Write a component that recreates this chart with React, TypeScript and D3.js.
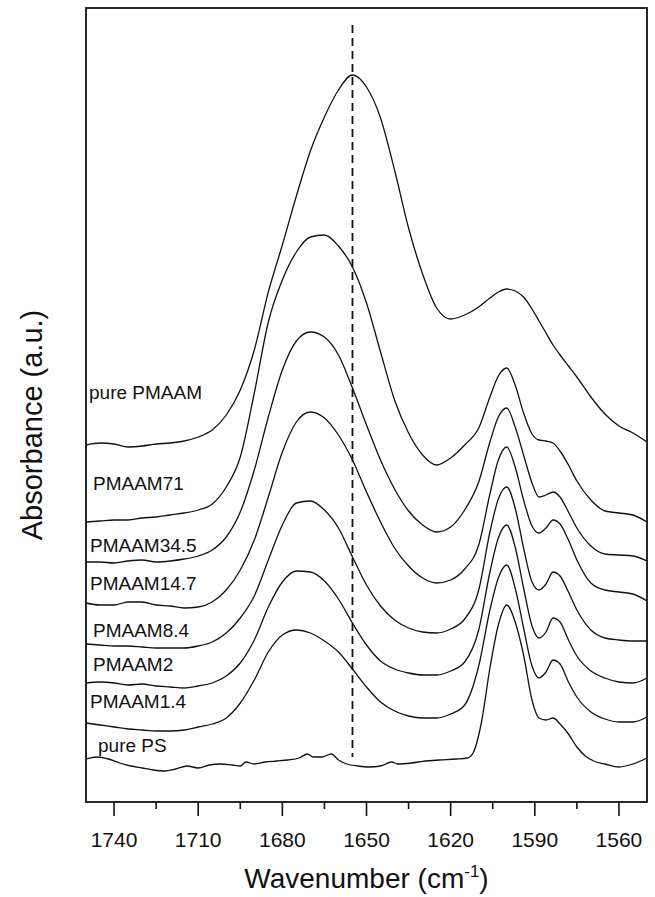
import React from "react";
import * as d3 from "d3";

// Shared wavenumber grid (cm^-1) for the PMAAM-containing spectra
const wavenumbers = [
  1750, 1745, 1740, 1735, 1730, 1725, 1720, 1715, 1710, 1705, 1700, 1695, 1690, 1685, 1680, 1675,
  1670, 1665, 1660, 1655, 1650, 1645, 1640, 1635, 1630, 1625, 1620, 1615, 1610, 1606, 1603, 1600,
  1597, 1594, 1591, 1588.5, 1586, 1583.5, 1581, 1578, 1575, 1570, 1565, 1560, 1555, 1550,
];

// Stacked absorbance traces (a.u., vertical offsets included)
const purePMAAM = [
  3.57, 3.59, 3.58, 3.55, 3.56, 3.58, 3.59, 3.61, 3.65, 3.72, 3.87, 4.12, 4.52, 5.1, 5.57, 6.06,
  6.51, 6.85, 7.12, 7.27, 7.15, 6.84, 6.32, 5.74, 5.28, 4.94, 4.83, 4.87, 4.95, 5.04, 5.1, 5.13,
  5.11, 5.05, 4.93, 4.81, 4.69, 4.57, 4.47, 4.36, 4.25, 4.05, 3.88, 3.76, 3.69, 3.6,
];
const pmaam71 = [
  2.8, 2.81, 2.82, 2.82, 2.84, 2.85, 2.87, 2.89, 2.92, 2.98, 3.15, 3.45, 4.09, 4.8, 5.22, 5.5,
  5.65, 5.67, 5.56, 5.35, 4.99, 4.5, 4.02, 3.69, 3.47, 3.37, 3.44, 3.57, 3.74, 4.05, 4.26, 4.34,
  4.17, 3.89, 3.68, 3.62, 3.61, 3.59, 3.51, 3.37, 3.21, 3.02, 2.91, 2.89, 2.87, 2.8,
];
const pmaam34_5 = [
  2.4, 2.4, 2.39, 2.41, 2.42, 2.4, 2.41, 2.43, 2.46, 2.52, 2.65, 2.9, 3.32, 3.85, 4.32, 4.61,
  4.7, 4.65, 4.47, 4.14, 3.77, 3.42, 3.13, 2.91, 2.77, 2.7, 2.75, 2.92, 3.2, 3.6, 3.85, 3.94,
  3.75, 3.47, 3.19, 3.05, 3.07, 3.1, 3.05, 2.9, 2.74, 2.56, 2.48, 2.47, 2.46, 2.41,
];
const pmaam14_7 = [
  1.99, 1.97, 1.97, 2.0, 2.0, 1.97, 1.96, 1.94, 1.95, 2.0, 2.12, 2.32, 2.62, 3.05, 3.5, 3.8,
  3.9, 3.84, 3.67, 3.42, 3.1, 2.8, 2.54, 2.36, 2.24, 2.19, 2.22, 2.33, 2.57, 3.08, 3.42, 3.55,
  3.35, 3.02, 2.76, 2.69, 2.74, 2.82, 2.78, 2.62, 2.42, 2.19, 2.12, 2.1, 2.08, 2.01,
];
const pmaam8_4 = [
  1.58, 1.57, 1.56, 1.56, 1.55, 1.54, 1.54, 1.54, 1.56, 1.6, 1.69, 1.84, 2.06, 2.42, 2.77, 2.99,
  3.01, 2.92, 2.74, 2.45, 2.17, 1.96, 1.82, 1.74, 1.7, 1.69, 1.73, 1.83, 2.12, 2.7, 3.03, 3.15,
  2.94, 2.54, 2.2, 2.12, 2.18, 2.3, 2.26, 2.1, 1.92, 1.72, 1.64, 1.62, 1.61, 1.61,
];
const pmaam2 = [
  1.19, 1.2, 1.19, 1.17, 1.18, 1.16, 1.15, 1.14, 1.16, 1.19, 1.26, 1.39, 1.62, 1.95, 2.2, 2.31,
  2.3, 2.21, 2.03, 1.79, 1.57, 1.41, 1.33, 1.29, 1.27, 1.27, 1.31, 1.4, 1.72, 2.3, 2.64, 2.77,
  2.55, 2.14, 1.76, 1.64, 1.7, 1.84, 1.8, 1.62, 1.46, 1.31, 1.24, 1.2, 1.19, 1.24,
];
const pmaam1_4 = [
  0.79, 0.77, 0.75, 0.73, 0.72, 0.71, 0.71, 0.72, 0.75, 0.78, 0.84, 0.99, 1.22, 1.5, 1.67, 1.72,
  1.69, 1.61, 1.5, 1.33, 1.15, 1.0, 0.91, 0.86, 0.84, 0.84, 0.88, 0.97, 1.36, 1.92, 2.24, 2.37,
  2.14, 1.74, 1.36, 1.24, 1.3, 1.42, 1.38, 1.2, 1.05, 0.9, 0.83, 0.8, 0.8, 0.85,
];

// Pure polystyrene is sampled more finely to keep its baseline noise
const psWavenumbers = [
  1750, 1746, 1742, 1738, 1734, 1730, 1726, 1722, 1718, 1714, 1710, 1706, 1702, 1698, 1695, 1693,
  1690, 1686, 1682, 1678, 1674, 1671, 1669, 1666, 1662.5, 1660, 1657, 1653, 1649, 1645, 1641, 1639,
  1634, 1629, 1624, 1618, 1614, 1612, 1609, 1606, 1603, 1600, 1597, 1594, 1591, 1588.5, 1586, 1583.5,
  1581, 1578, 1575, 1572, 1569, 1565, 1560, 1555, 1550,
];
const purePS = [
  0.43, 0.45, 0.43, 0.39, 0.36, 0.34, 0.32, 0.31, 0.33, 0.36, 0.34, 0.37, 0.38, 0.37, 0.36, 0.4,
  0.38, 0.4, 0.41, 0.42, 0.44, 0.48, 0.45, 0.45, 0.48, 0.42, 0.38, 0.36, 0.35, 0.36, 0.4, 0.38,
  0.39, 0.41, 0.42, 0.43, 0.44, 0.49, 0.8, 1.34, 1.77, 1.97, 1.8, 1.47, 1.02, 0.84, 0.82, 0.84,
  0.78, 0.68, 0.55, 0.46, 0.41, 0.38, 0.35, 0.38, 0.44,
];

const seriesNames = ["pure PMAAM", "PMAAM71", "PMAAM34.5", "PMAAM14.7", "PMAAM8.4", "PMAAM2", "PMAAM1.4", "pure PS"];
const seriesValues = [purePMAAM, pmaam71, pmaam34_5, pmaam14_7, pmaam8_4, pmaam2, pmaam1_4, purePS];
const seriesGrids = [wavenumbers, wavenumbers, wavenumbers, wavenumbers, wavenumbers, wavenumbers, wavenumbers, psWavenumbers];

const majorTicks = [1740, 1710, 1680, 1650, 1620, 1590, 1560];
const minorTicks = [1725, 1695, 1665, 1635, 1605, 1575];

// Reference line at the amide I position of pure PMAAM
const markerWavenumber = 1655;
const markerExtent = [0.45, 7.77];

// Layout
const W = 655;
const H = 897;
const plot = { left: 86, right: 647, top: 8, bottom: 802 };
const labelPos = [
  { x: 89, y: 399 },
  { x: 93, y: 490 },
  { x: 90, y: 552 },
  { x: 90, y: 590 },
  { x: 93, y: 637 },
  { x: 93, y: 671 },
  { x: 90, y: 708 },
  { x: 98, y: 752 },
];
const font = "'Liberation Sans', Arial, Helvetica, sans-serif";

export default function App() {
  const x = d3.scaleLinear().domain([1750, 1550]).range([plot.left, plot.right]);
  const y = d3.scaleLinear().domain([0, 7.94]).range([plot.bottom, plot.top]);

  const line = d3
    .line<[number, number]>()
    .x((d) => x(d[0]))
    .y((d) => y(d[1]))
    .curve(d3.curveMonotoneX);

  const paths = seriesValues.map((vals, i) =>
    line(seriesGrids[i].map((w, j) => [w, vals[j]] as [number, number]))
  );

  return (
    <svg
      width={W}
      height={H}
      style={{ position: "absolute", left: 0, top: 0, background: "#fff" }}
      fontFamily={font}
    >
      <rect x={0} y={0} width={W} height={H} fill="#fff" />

      {paths.map((d, i) => (
        <path key={i} d={d || ""} fill="none" stroke="#111" strokeWidth={1.3} strokeLinejoin="round" />
      ))}

      <line
        x1={x(markerWavenumber)}
        x2={x(markerWavenumber)}
        y1={y(markerExtent[1])}
        y2={y(markerExtent[0])}
        stroke="#111"
        strokeWidth={1.8}
        strokeDasharray="8,5"
      />

      {seriesNames.map((name, i) => (
        <text key={name} x={labelPos[i].x} y={labelPos[i].y} fontSize={19} fill="#111">
          {name}
        </text>
      ))}

      <rect
        x={plot.left}
        y={plot.top}
        width={plot.right - plot.left}
        height={plot.bottom - plot.top}
        fill="none"
        stroke="#111"
        strokeWidth={1.8}
      />

      {majorTicks.map((t) => (
        <g key={t}>
          <line x1={x(t)} x2={x(t)} y1={plot.bottom} y2={plot.bottom + 14} stroke="#111" strokeWidth={1.6} />
          <text x={x(t)} y={847} fontSize={21} textAnchor="middle" fill="#111">
            {t}
          </text>
        </g>
      ))}
      {minorTicks.map((t) => (
        <line key={t} x1={x(t)} x2={x(t)} y1={plot.bottom} y2={plot.bottom + 7} stroke="#111" strokeWidth={1.6} />
      ))}

      <text x={(plot.left + plot.right) / 2} y={888} fontSize={28} textAnchor="middle" fill="#111">
        Wavenumber (cm
        <tspan dy={-11} fontSize={17}>-1</tspan>
        <tspan dy={11}>)</tspan>
      </text>

      <text
        transform={`translate(41.5, 425) rotate(-90)`}
        fontSize={29}
        textAnchor="middle"
        fill="#111"
      >
        Absorbance (a.u.)
      </text>
    </svg>
  );
}
